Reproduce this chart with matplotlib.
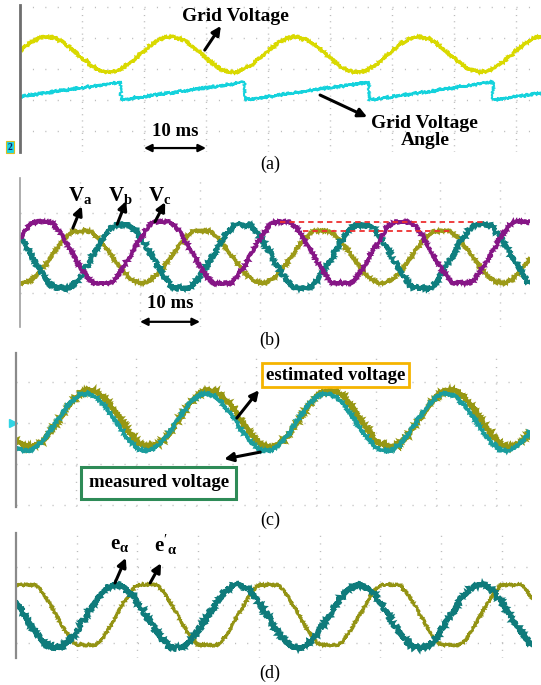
import numpy as np
import matplotlib
matplotlib.use("Agg")
import matplotlib.pyplot as plt

plt.rcParams['font.family'] = ['Liberation Serif', 'DejaVu Serif']
plt.rcParams['mathtext.fontset'] = 'custom'
plt.rcParams['mathtext.rm'] = 'Liberation Serif'
plt.rcParams['mathtext.bf'] = 'Liberation Serif:bold'
plt.rcParams['mathtext.it'] = 'Liberation Serif:italic'
plt.rcParams['path.simplify'] = False

W, H = 541, 685
PERIOD_MS = 20.0
SCALE_BAR_MS = [20.0, 30.0]

# (a) grid voltage and the estimated angle (peak time ms, mid level, amplitude in div)
GRID_V_PEAK_MS = 4.35
GRID_V_MID = 2.47
GRID_V_AMP = 0.565
ANGLE_RESET_MS = 16.3
ANGLE_LOW, ANGLE_HIGH = 1.0, 1.58

# (b) three phase voltages
PHASE_LABELS = [r'$\mathbf{V_a}$', r'$\mathbf{V_b}$', r'$\mathbf{V_c}$']
PHASE_PEAK_MS = [10.3, 17.0, 3.67]
PHASE_MID = [-0.07, -0.09, 0.0125]
PHASE_AMP = [0.68, 0.85, 0.85]
PHASE_CLIP = [(-0.75, 0.55), (-0.875, 0.70), (-0.75, 0.775)]
PHASE_COLORS = ['#9c9a18', '#0f7f7f', '#861686']
PHASE_NOISE = [1.0, 2.4, 1.4]
REF_LINE_SPANS_MS = [(43.3, 77.2), (47.2, 71.7)]

# (c) estimated vs measured voltage
CMP_NAMES = ['estimated voltage', 'measured voltage']
CMP_PEAK_MS = [12.3, 11.7]
CMP_MID = [0.11, 0.02]
CMP_AMP = [0.695, 0.70]
CMP_COLORS = ['#979712', '#1b9d9d']

# (d) e_alpha and e'_alpha
EA_LABELS = [r'$\mathbf{e}_{\mathbf{α}}$', r"$\mathbf{e}'_{\mathbf{α}}$"]
EA_PEAK_MS = [16.5, 21.6]
EA_MID = [-0.30, -0.26]
EA_AMP = [0.83, 0.90]
EA_CLIP = [(-5, 5), (-1.05, 0.53)]
EA_COLORS = ['#0f7b7b', '#939313']


def wave(t, peak, mid, amp, clip=(-9, 9)):
    return np.clip(mid + amp * np.cos(2 * np.pi * (t - peak) / PERIOD_MS), *clip)


def panel(left, right, top, bottom, px_ms, mid_px, div_px, spine='#8a8a8a', spine_w=1.6):
    ax = fig.add_axes([left / W, 1 - bottom / H, (right - left) / W, (bottom - top) / H])
    ax.set_xlim(0, (right - left) / px_ms)
    ax.set_ylim((mid_px - bottom) / div_px, (mid_px - top) / div_px)
    for s in ['top', 'right', 'bottom']:
        ax.spines[s].set_visible(False)
    ax.spines['left'].set_color(spine)
    ax.spines['left'].set_linewidth(spine_w)
    ax.set_xticks([])
    ax.set_yticks([])
    ax.patch.set_alpha(0)
    x0, x1 = ax.get_xlim()
    y0, y1 = ax.get_ylim()
    hdot = 0.2 * 10 * px_ms * 0.72
    vdot = 0.2 * div_px * 0.72
    for xv in np.arange(10, x1, 10):
        ax.axvline(xv, color='#bcbcbc', lw=1.0, dashes=(0.8, vdot - 0.8), zorder=0)
    for yv in range(int(np.ceil(y0)), int(np.floor(y1)) + 1):
        ax.axhline(yv, color='#bcbcbc', lw=1.0, dashes=(0.8, hdot - 0.8), zorder=0)
    t = np.arange(0, x1, 0.05)
    return ax, t


def trace(ax, t, y, color, lw, noise):
    ln, = ax.plot(t, y, color=color, lw=lw, solid_joinstyle='miter')
    ln.set_sketch_params(scale=noise, length=0.6, randomness=2.5)
    return ln


def arrow(ax, tail, head, lw=2.2):
    ax.annotate('', xy=head, xytext=tail, annotation_clip=False,
                arrowprops=dict(arrowstyle='-|>', color='black', lw=lw,
                                mutation_scale=13, shrinkA=0, shrinkB=0))


def scale_bar(ax, y_text, y_bar):
    ax.text(np.mean(SCALE_BAR_MS), y_text, '10 ms', fontsize=13.5, fontweight='bold',
            ha='center', va='center')
    ax.annotate('', xy=(SCALE_BAR_MS[1], y_bar), xytext=(SCALE_BAR_MS[0], y_bar),
                annotation_clip=False,
                arrowprops=dict(arrowstyle='<|-|>', color='black', lw=1.6,
                                mutation_scale=11, shrinkA=0, shrinkB=0))


fig = plt.figure(figsize=(W / 100, H / 100), dpi=100)
fig.patch.set_facecolor('white')

# ---- (a)
ax, t = panel(20, 541, 5, 152, 6.2, 131, 31, spine='#6e6e6e', spine_w=2.0)
trace(ax, t, wave(t, GRID_V_PEAK_MS, GRID_V_MID, GRID_V_AMP), '#d9d900', 1.7, 1.3)
saw = ANGLE_LOW + (ANGLE_HIGH - ANGLE_LOW) * np.mod(t - ANGLE_RESET_MS, PERIOD_MS) / PERIOD_MS
trace(ax, t, saw, '#14d2dc', 1.4, 1.3)
ax.text(34.8, 3.68, 'Grid Voltage', fontsize=14, fontweight='bold', ha='center', va='center')
arrow(ax, (29.8, 2.61), (32.4, 3.39))
ax.text(65.3, -0.03, 'Grid Voltage\nAngle', fontsize=14, fontweight='bold', ha='center',
        va='center', linespacing=0.95)
arrow(ax, (48.4, 1.16), (56.0, 0.45))
scale_bar(ax, -0.03, -0.55)
fig.text(10 / W, 1 - 147 / H, '2', fontsize=7, fontweight='bold', color='#10206a',
         ha='center', va='center',
         bbox=dict(boxstyle='square,pad=0.15', facecolor='#1ed4e4', edgecolor='#d8c020', lw=0.8))
fig.text(270 / W, 1 - 164 / H, '(a)', fontsize=13, ha='center', va='center')

# ---- (b)
ax, t = panel(20, 530, 178, 327, 6.0, 253, 40, spine='#a0a0a0', spine_w=1.2)
for peak, mid, amp, clip, col, nz in zip(PHASE_PEAK_MS, PHASE_MID, PHASE_AMP, PHASE_CLIP,
                                          PHASE_COLORS, PHASE_NOISE):
    trace(ax, t, wave(t, peak, mid, amp, clip), col, 2.0, nz)
ref_levels = [PHASE_CLIP[2][1], PHASE_CLIP[0][1]]
for (a, b), lvl in zip(REF_LINE_SPANS_MS, ref_levels):
    ax.plot([a, b], [lvl, lvl], color='#ee3030', lw=1.3, dashes=(3, 2.2), zorder=5)
label_t = [10.0, 16.7, 23.3]
tails = [(8.8, 0.62), (16.2, 0.72), (22.5, 0.78)]
heads = [(10.3, 1.17), (17.7, 1.30), (24.2, 1.27)]
for lab, lt, tl, hd in zip(PHASE_LABELS, label_t, tails, heads):
    ax.text(lt, 1.45, lab, fontsize=15, ha='center', va='center')
    arrow(ax, tl, hd)
scale_bar(ax, -1.27, -1.72)
fig.text(270 / W, 1 - 340 / H, '(b)', fontsize=13, ha='center', va='center')

# ---- (c)
ax, t = panel(16, 530, 353, 507, 6.0, 423, 41)
for peak, mid, amp, col, lw in zip(CMP_PEAK_MS, CMP_MID, CMP_AMP, CMP_COLORS, [2.6, 2.0]):
    trace(ax, t, wave(t, peak, mid, amp), col, lw, 1.2)
ax.plot([-0.5], [0], marker='>', color='#30d4e4', ms=6, clip_on=False)
ax.text(53.3, 1.17, CMP_NAMES[0], fontsize=13.5, fontweight='bold', ha='center', va='center',
        bbox=dict(boxstyle='square,pad=0.2', facecolor='white', edgecolor='#f5b400', lw=2.0))
ax.text(23.8, -1.46, CMP_NAMES[1], fontsize=13.5, fontweight='bold', ha='center', va='center',
        bbox=dict(boxstyle='square,pad=0.4', facecolor='white', edgecolor='#2e8b57', lw=2.2))
arrow(ax, (36.8, 0.12), (40.5, 0.80))
arrow(ax, (40.7, -0.71), (34.7, -0.88))
fig.text(270 / W, 1 - 520 / H, '(c)', fontsize=13, ha='center', va='center')

# ---- (d)
ax, t = panel(16, 532, 533, 658, 6.07, 605, 38)
for i in [1, 0]:
    trace(ax, t, wave(t, EA_PEAK_MS[i], EA_MID[i], EA_AMP[i], EA_CLIP[i]), EA_COLORS[i],
          [2.2, 1.7][i], [2.6, 1.0][i])
ax.text(17.1, 1.58, EA_LABELS[0], fontsize=15, ha='center', va='center')
ax.text(24.7, 1.58, EA_LABELS[1], fontsize=15, ha='center', va='center')
arrow(ax, (16.3, 0.58), (18.1, 1.24))
arrow(ax, (22.1, 0.58), (23.9, 1.10))
fig.text(270 / W, 1 - 673 / H, '(d)', fontsize=13, ha='center', va='center')

fig.savefig('out.png', dpi=100, facecolor='white')
